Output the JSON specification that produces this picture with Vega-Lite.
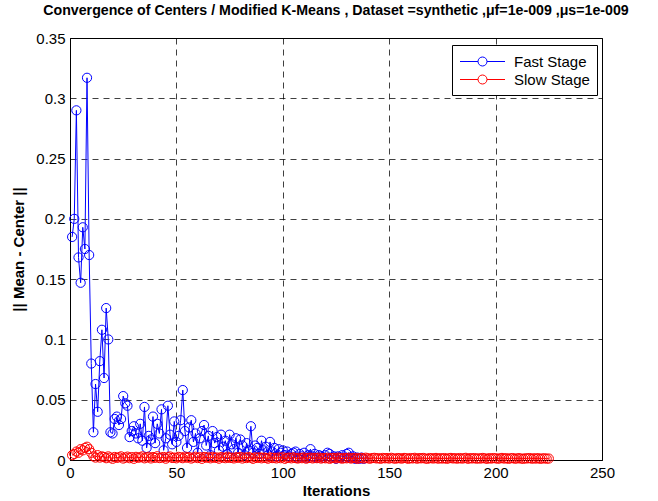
{
  "$schema": "https://vega.github.io/schema/vega-lite/v6.json",
  "width": 532,
  "height": 422,
  "autosize": {"type": "none"},
  "padding": {"left": 70, "top": 38, "right": 56, "bottom": 41},
  "background": "white",
  "title": {
    "text": "Convergence of Centers / Modified K-Means , Dataset =synthetic ,μf=1e-009 ,μs=1e-009",
    "font": "Liberation Sans",
    "fontSize": 14.2,
    "fontWeight": "bold",
    "color": "black",
    "offset": 13
  },
  "config": {
    "view": {"stroke": "black", "strokeWidth": 1},
    "font": "Liberation Sans"
  },
  "datasets": {
    "fast": [
      0.185,0.200,0.290,0.168,0.147,0.193,0.175,0.317,0.170,0.080,
      0.023,0.063,0.040,0.082,0.108,0.068,0.126,0.100,0.023,0.022,
      0.034,0.036,0.029,0.034,0.053,0.047,0.045,0.019,0.024,0.028,
      0.022,0.018,0.030,0.016,0.044,0.010,0.020,0.017,0.036,0.014,
      0.030,0.022,0.042,0.008,0.018,0.045,0.021,0.013,0.032,0.015,
      0.020,0.033,0.058,0.024,0.010,0.027,0.033,0.015,0.022,0.006,
      0.018,0.024,0.029,0.012,0.020,0.004,0.024,0.014,0.019,0.008,
      0.021,0.011,0.016,0.005,0.021,0.013,0.009,0.018,0.006,0.017,
      0.012,0.004,0.014,0.008,0.028,0.006,0.012,0.010,0.005,0.016,
      0.008,0.011,0.004,0.015,0.007,0.010,0.003,0.009,0.006,0.008,
      0.004,0.007,0.003,0.005,0.006,0.007,0.002,0.005,0.003,0.006,
      0.002,0.004,0.009,0.003,0.005,0.002,0.004,0.003,0.002,0.004,
      0.006,0.005,0.002,0.003,0.001,0.003,0.002,0.004,0.002,0.005,
      0.006,0.002,0.003,0.001,0.002,0.001,0.002,0.001
    ],
    "slow": [
      0.004,0.005,0.007,0.006,0.009,0.008,0.010,0.011,0.009,0.006,
      0.003,0.002,0.004,0.002,0.003,
      0.0025,0.0015,0.0030,0.0020,0.0010,0.0025,0.0018,0.0022,0.0030,0.0012,
      0.0020,0.0028,0.0015,0.0024,0.0010,0.0026,0.0019,0.0022,0.0030,0.0014,
      0.0021,0.0027,0.0013,0.0024,0.0018,0.0031,0.0016,0.0020,0.0025,0.0011,
      0.0023,0.0029,0.0017,0.0020,0.0014,0.0026,0.0022,0.0015,0.0028,0.0019,
      0.0024,0.0012,0.0020,0.0027,0.0016,0.0023,0.0010,0.0025,0.0019,0.0022,
      0.0014,0.0026,0.0018,0.0021,0.0011,0.0024,0.0020,0.0015,0.0027,0.0017,
      0.0020,0.0013,0.0023,0.0018,0.0025,0.0012,0.0021,0.0016,0.0024,0.0019,
      0.0010,0.0022,0.0017,0.0023,0.0014,0.0020,0.0018,0.0011,0.0022,0.0016,
      0.0019,0.0013,0.0021,0.0015,0.0023,0.0010,0.0018,0.0020,0.0014,0.0022,
      0.0016,0.0012,0.0019,0.0015,0.0021,0.0011,0.0017,0.0020,0.0013,0.0018,
      0.0015,0.0020,0.0012,0.0017,0.0014,0.0019,0.0010,0.0016,0.0018,0.0013,
      0.0020,0.0015,0.0011,0.0017,0.0014,0.0019,0.0012,0.0016,0.0018,0.0010,
      0.0015,0.0017,0.0012,0.0019,0.0014,0.0011,0.0016,0.0018,0.0013,0.0015,
      0.0010,0.0017,0.0014,0.0016,0.0012,0.0018,0.0013,0.0011,0.0016,0.0014,
      0.0012,0.0017,0.0015,0.0010,0.0016,0.0013,0.0018,0.0011,0.0015,0.0014,
      0.0017,0.0012,0.0010,0.0016,0.0014,0.0013,0.0017,0.0011,0.0015,0.0012,
      0.0016,0.0010,0.0014,0.0017,0.0013,0.0015,0.0011,0.0016,0.0012,0.0014,
      0.0018,0.0010,0.0015,0.0013,0.0016,0.0011,0.0014,0.0012,0.0017,0.0013,
      0.0010,0.0015,0.0012,0.0016,0.0014,0.0011,0.0013,0.0017,0.0012,0.0015,
      0.0010,0.0014,0.0016,0.0011,0.0013,0.0015,0.0012,0.0010,0.0014,0.0013,
      0.0016,0.0011,0.0014,0.0012,0.0015,0.0010,0.0013,0.0014,0.0011,0.0012
    ]
  },
  "layer": [
    {
      "data": {"name": "fast"},
      "transform": [
        {"window": [{"op": "row_number", "as": "Iteration"}]},
        {"calculate": "'Fast Stage'", "as": "Stage"}
      ],
      "mark": {"type": "line", "strokeWidth": 1, "point": {"filled": false, "size": 85, "strokeWidth": 1}},
      "encoding": {
        "x": {"field": "Iteration", "type": "quantitative"},
        "y": {"field": "data", "type": "quantitative"},
        "color": {"field": "Stage", "type": "nominal"}
      }
    },
    {
      "data": {"name": "slow"},
      "transform": [
        {"window": [{"op": "row_number", "as": "Iteration"}]},
        {"calculate": "'Slow Stage'", "as": "Stage"}
      ],
      "mark": {"type": "line", "strokeWidth": 1, "point": {"filled": false, "size": 85, "strokeWidth": 1}},
      "encoding": {
        "x": {"field": "Iteration", "type": "quantitative"},
        "y": {"field": "data", "type": "quantitative"},
        "color": {"field": "Stage", "type": "nominal"}
      }
    }
  ],
  "resolve": {"scale": {"color": "shared"}},
  "encoding": {
    "x": {
      "field": "Iteration", "type": "quantitative",
      "scale": {"domain": [0, 250], "nice": false, "zero": false},
      "axis": {
        "title": "Iterations", "titleFontSize": 15, "titleFontWeight": "bold", "titleColor": "black", "titlePadding": 3,
        "values": [0, 50, 100, 150, 200, 250], "labelFontSize": 15, "labelColor": "black", "labelPadding": 5,
        "ticks": false, "domainColor": "black",
        "gridColor": "black", "gridDash": [6, 5], "gridOpacity": 0.75, "gridWidth": 1, "labelFlush": false
      }
    },
    "y": {
      "field": "data", "type": "quantitative",
      "scale": {"domain": [0, 0.35], "nice": false},
      "axis": {
        "title": "|| Mean - Center ||", "titleFontSize": 15, "titleFontWeight": "bold", "titleColor": "black", "titlePadding": 9,
        "values": [0, 0.05, 0.1, 0.15, 0.2, 0.25, 0.3, 0.35], "format": "~g", "labelFontSize": 15, "labelColor": "black", "labelPadding": 5,
        "ticks": false, "domainColor": "black",
        "gridColor": "black", "gridDash": [6, 5], "gridOpacity": 0.75, "gridWidth": 1, "labelFlush": false
      }
    },
    "color": {
      "field": "Stage", "type": "nominal",
      "scale": {"domain": ["Fast Stage", "Slow Stage"], "range": ["#0000ff", "#ff0000"]},
      "legend": {
        "title": null, "orient": "none", "legendX": 382, "legendY": 7,
        "fillColor": "white", "strokeColor": "black", "padding": 7,
        "labelFontSize": 15, "labelColor": "black", "labelOffset": 22,
        "symbolType": "M-2.5,0H-0.5M0.5,0H2.5M0.5,0A0.5,0.5,0,1,1,-0.5,0A0.5,0.5,0,1,1,0.5,0",
        "symbolSize": 324, "symbolOffset": 14, "symbolStrokeWidth": 1, "symbolFillColor": "transparent",
        "rowPadding": 0
      }
    }
  }
}
